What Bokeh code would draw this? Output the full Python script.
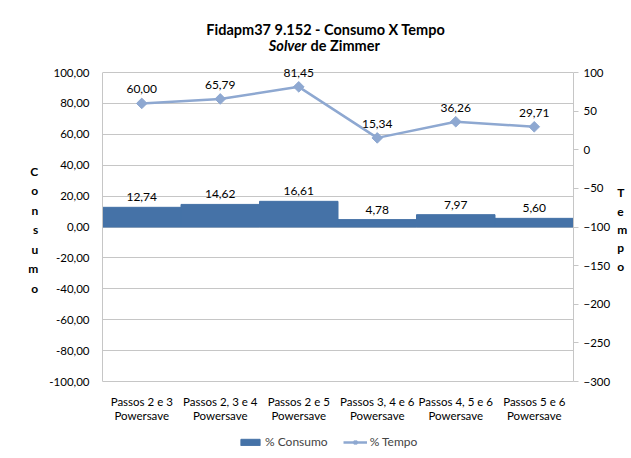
import numpy as np
from bokeh.plotting import figure
from bokeh.core.properties import value
from bokeh.models import (Range1d, LinearAxis, FixedTicker, CustomJSTickFormatter,
                          ColumnDataSource, LabelSet, Label, Legend, LegendItem)
from bokeh.embed import file_html
from bokeh.resources import INLINE

categories = ["Passos 2 e 3\nPowersave", "Passos 2, 3 e 4\nPowersave", "Passos 2 e 5\nPowersave",
              "Passos 3, 4 e 6\nPowersave", "Passos 4, 5 e 6\nPowersave", "Passos 5 e 6\nPowersave"]
consumo = [12.74, 14.62, 16.61, 4.78, 7.97, 5.60]
tempo = [60.00, 65.79, 81.45, 15.34, 36.26, 29.71]
left_ticks = [-100, -80, -60, -40, -20, 0, 20, 40, 60, 80, 100]
right_ticks = [-300, -250, -200, -150, -100, -50, 0, 50, 100]
left_bounds = (-100, 100)
right_bounds = (-300, 100)

FONT = "Lato"
FS = "11.5px"
BAR = "#4572A7"
LINE = "#8EA8D1"
GRID = "#C6C6C6"

# geometry of the value area: 309 px for the 200 units of the left axis,
# 72 px of headroom (title) above it and 77 px (categories, legend) below it
PX_PER_UNIT = 309 / 200
HEAD, FOOT = 72, 77
FRAME_H = HEAD + 309 + FOOT
r = 2  # right axis spans twice the units of the left one
y_lo = left_bounds[0] - FOOT / PX_PER_UNIT
y_hi = left_bounds[1] + HEAD / PX_PER_UNIT
t_lo = right_bounds[0] - FOOT / PX_PER_UNIT * r
t_hi = right_bounds[1] + HEAD / PX_PER_UNIT * r

def fmt(v):
    return f"{v:.2f}".replace(".", ",")

src = ColumnDataSource(dict(cat=categories, consumo=consumo, tempo=tempo,
                            clab=[fmt(v) for v in consumo], tlab=[fmt(v) for v in tempo]))

p = figure(x_range=categories, y_range=Range1d(y_lo, y_hi),
           frame_width=471, frame_height=FRAME_H,
           output_backend="svg", toolbar_location=None,
           min_border_left=102, min_border_right=0, min_border_top=0, min_border_bottom=0)
p.extra_y_ranges = {"tempo": Range1d(t_lo, t_hi)}

bars = p.vbar(x="cat", top="consumo", bottom=0, width=1.0, source=src,
              fill_color=BAR, line_color=BAR)
line = p.line(x="cat", y="tempo", source=src, y_range_name="tempo",
              line_color=LINE, line_width=2.5)
pts = p.scatter(x="cat", y="tempo", source=src, y_range_name="tempo", marker="square",
                angle=np.pi / 4, size=7.5, fill_color=LINE, line_color=LINE)

p.add_layout(LabelSet(x="cat", y="consumo", text="clab", source=src, y_offset=6,
                      text_align="center", text_baseline="bottom",
                      text_font=value(FONT), text_font_size="12px", text_color="#000000"))
p.add_layout(LabelSet(x="cat", y="tempo", text="tlab", source=src, y_range_name="tempo",
                      y_offset=10, text_align="center", text_baseline="bottom",
                      text_font=value(FONT), text_font_size="12px", text_color="#000000"))

# left axis
ya = p.yaxis[0]
ya.ticker = FixedTicker(ticks=left_ticks)
ya.bounds = left_bounds
ya.formatter = CustomJSTickFormatter(code="return tick.toFixed(2).replace('.', ',');")
ya.major_tick_line_color = None
ya.major_tick_out = 0
ya.major_tick_in = 0
ya.major_label_standoff = 13
ya.minor_tick_line_color = None
ya.axis_line_color = GRID
ya.axis_label = "\n".join("Consumo")
ya.axis_label_orientation = "horizontal"
ya.axis_label_standoff = 8
ya.axis_label_text_line_height = 1.3

# right axis
ra = LinearAxis(y_range_name="tempo", ticker=FixedTicker(ticks=right_ticks), bounds=right_bounds)
ra.major_tick_in = 0
ra.major_tick_out = 5
ra.major_tick_line_color = GRID
ra.minor_tick_line_color = None
ra.axis_line_color = GRID
ra.major_label_standoff = 5
ra.axis_label = "\n".join("Tempo")
ra.axis_label_orientation = "horizontal"
ra.axis_label_standoff = 4
ra.axis_label_text_line_height = 1.22
p.add_layout(ra, "right")

for ax in (ya, ra):
    ax.major_label_text_font = FONT
    ax.major_label_text_font_size = FS
    ax.major_label_text_color = "#000000"
    ax.axis_label_text_font = FONT
    ax.axis_label_text_font_size = "12px"
    ax.axis_label_text_font_style = "bold"
    ax.axis_label_text_color = "#000000"
    ax.axis_label_text_align = "center"

# category axis sits on the -100 line of the left scale
xa = p.xaxis[0]
xa.fixed_location = left_bounds[0]
xa.major_tick_line_color = None
xa.major_tick_out = 0
xa.major_tick_in = 0
xa.axis_line_color = GRID
xa.major_label_standoff = 13
xa.major_label_text_line_height = 1.15
xa.major_label_text_font = FONT
xa.major_label_text_font_size = FS
xa.major_label_text_color = "#000000"

p.xgrid.grid_line_color = None
p.ygrid.grid_line_color = GRID
p.ygrid.ticker = FixedTicker(ticks=left_ticks)
p.outline_line_color = None
p.background_fill_color = "white"
p.border_fill_color = "white"

# two-line title in the headroom
p.add_layout(Label(x=225, y=FRAME_H - 29, x_units="screen", y_units="screen",
                   text="Fidapm37 9.152 -  Consumo X Tempo", text_align="center",
                   text_baseline="middle", text_font=FONT, text_font_style="bold",
                   text_font_size="14.5px", text_color="#000000"))
p.add_layout(Label(x=204, y=FRAME_H - 45, x_units="screen", y_units="screen",
                   text="Solver", text_align="right", text_baseline="middle",
                   text_font=FONT, text_font_style="bold italic",
                   text_font_size="14.5px", text_color="#000000"))
p.add_layout(Label(x=208, y=FRAME_H - 45, x_units="screen", y_units="screen",
                   text="de Zimmer", text_align="left", text_baseline="middle",
                   text_font=FONT, text_font_style="bold",
                   text_font_size="14.5px", text_color="#000000"))

legend = Legend(items=[LegendItem(label="% Consumo", renderers=[bars]),
                       LegendItem(label="% Tempo", renderers=[line, pts])],
                orientation="horizontal", location=(136, 9),
                label_text_font=FONT, label_text_font_size="12px", label_standoff=3,
                glyph_width=24, glyph_height=8, spacing=15, padding=2, margin=0,
                border_line_color=None, background_fill_alpha=0)
p.add_layout(legend)

open("out.html", "w").write(file_html(p, INLINE))
